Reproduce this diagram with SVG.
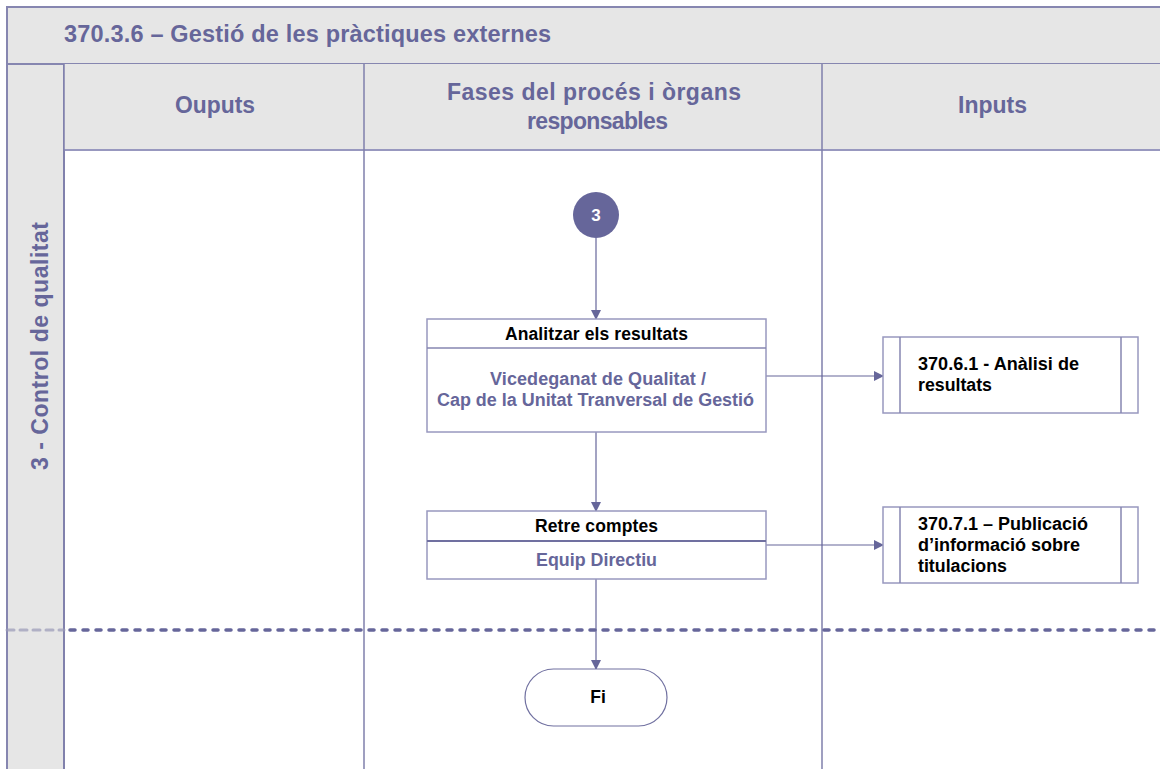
<svg xmlns="http://www.w3.org/2000/svg" width="1160" height="769" viewBox="0 0 1160 769">
<defs>
<marker id="arr" markerWidth="10" markerHeight="10" refX="9" refY="5" orient="auto" markerUnits="userSpaceOnUse">
<path d="M0,0 L10,5 L0,10 z" fill="#66669a"/>
</marker>
<style>
.t{font-family:"Liberation Sans",Arial,sans-serif;font-weight:bold}
.hd{fill:#66669a;font-size:23px}
.frame{fill:#e6e6e6;stroke:#8686b0;stroke-width:2}
.ln{stroke:#7f7fab;stroke-width:1.5;fill:none}
.box{fill:#fff;stroke:#9898bf;stroke-width:1.5}
.bk{fill:#000;font-size:17.5px}
.pu{fill:#66669a;font-size:18px}
.rt{fill:#000;font-size:18px}
.con{stroke:#66669a;stroke-width:1.2;fill:none}
</style>
</defs>
<rect width="1160" height="769" fill="#fff"/>
<g id="frame">
<rect x="7" y="7" width="1160" height="57" class="frame"/>
<rect x="7" y="64" width="57" height="710" class="frame"/>
<rect x="64" y="64" width="1100" height="86" fill="#e6e6e6"/>
<line x1="64" y1="150" x2="1160" y2="150" stroke="#9898bf" stroke-width="2"/>
<line x1="64" y1="64" x2="64" y2="769" class="ln"/>
<line x1="364" y1="64" x2="364" y2="769" class="ln"/>
<line x1="822" y1="64" x2="822" y2="769" class="ln"/>
<text x="64" y="42" class="t" font-size="23.5" fill="#66669a" textLength="487" lengthAdjust="spacing">370.3.6 – Gestió de les pràctiques externes</text>
<text x="175" y="113" class="t hd" textLength="80" lengthAdjust="spacingAndGlyphs">Ouputs</text>
<text x="447" y="100" class="t hd" textLength="294" lengthAdjust="spacing">Fases del procés i òrgans</text>
<text x="527" y="129" class="t hd" textLength="141" lengthAdjust="spacing">responsables</text>
<text x="958" y="113" class="t hd" textLength="69" lengthAdjust="spacing">Inputs</text>
<text transform="translate(48,470) rotate(-90)" class="t hd" textLength="248" lengthAdjust="spacing">3 - Control de qualitat</text>
<line x1="7" y1="630" x2="64" y2="630" stroke="#9a9ab8" stroke-width="3" stroke-dasharray="7,6" stroke-linecap="round" opacity="0.7"/>
<line x1="70" y1="630" x2="1160" y2="630" stroke="#66669a" stroke-width="3.5" stroke-dasharray="5,8" stroke-linecap="round"/>
</g>
<g id="connectors">
<line x1="596" y1="238" x2="596" y2="319" class="con" marker-end="url(#arr)"/>
<line x1="596" y1="432" x2="596" y2="511" class="con" marker-end="url(#arr)"/>
<line x1="596" y1="579" x2="596" y2="669" class="con" marker-end="url(#arr)"/>
<line x1="766" y1="376" x2="883" y2="376" class="con" marker-end="url(#arr)"/>
<line x1="766" y1="545" x2="883" y2="545" class="con" marker-end="url(#arr)"/>
</g>
<g id="start">
<circle cx="596" cy="215" r="23" fill="#66669a"/>
<text x="596" y="221" class="t" font-size="17" fill="#fff" text-anchor="middle">3</text>
</g>
<g id="analitzar">
<rect x="427" y="319" width="339" height="113" class="box"/>
<line x1="427" y1="348" x2="766" y2="348" stroke="#8686b0" stroke-width="1.5"/>
<text x="505" y="340" class="t bk" textLength="183" lengthAdjust="spacing">Analitzar els resultats</text>
<text x="490" y="385" class="t pu" textLength="216" lengthAdjust="spacing">Vicedeganat de Qualitat /</text>
<text x="437" y="406" class="t pu" textLength="317" lengthAdjust="spacingAndGlyphs">Cap de la Unitat Tranversal de Gestió</text>
</g>
<g id="retre">
<rect x="427" y="511" width="339" height="68" class="box"/>
<line x1="427" y1="541" x2="766" y2="541" stroke="#7070a0" stroke-width="2"/>
<text x="535" y="532" class="t bk" textLength="123" lengthAdjust="spacing">Retre comptes</text>
<text x="536" y="566" class="t pu" textLength="121" lengthAdjust="spacingAndGlyphs">Equip Directiu</text>
</g>
<g id="fi">
<rect x="525" y="669" width="142" height="57" rx="28.5" fill="#fff" stroke="#7070a0" stroke-width="1.2"/>
<text x="598" y="703" class="t bk" text-anchor="middle">Fi</text>
</g>
<g id="in1">
<rect x="883" y="337" width="255" height="76" class="box"/>
<line x1="900" y1="337" x2="900" y2="413" stroke="#8686b0" stroke-width="1.5"/>
<line x1="1121" y1="337" x2="1121" y2="413" stroke="#8686b0" stroke-width="1.5"/>
<text x="918" y="370" class="t rt" textLength="161" lengthAdjust="spacingAndGlyphs">370.6.1 - Anàlisi de</text>
<text x="918" y="391" class="t rt" textLength="74" lengthAdjust="spacingAndGlyphs">resultats</text>
</g>
<g id="in2">
<rect x="883" y="507" width="255" height="76" class="box"/>
<line x1="900" y1="507" x2="900" y2="583" stroke="#8686b0" stroke-width="1.5"/>
<line x1="1121" y1="507" x2="1121" y2="583" stroke="#8686b0" stroke-width="1.5"/>
<text x="918" y="530" class="t rt" textLength="170" lengthAdjust="spacingAndGlyphs">370.7.1 – Publicació</text>
<text x="918" y="551" class="t rt" textLength="162" lengthAdjust="spacingAndGlyphs">d’informació sobre</text>
<text x="918" y="572" class="t rt" textLength="89" lengthAdjust="spacingAndGlyphs">titulacions</text>
</g>
</svg>
